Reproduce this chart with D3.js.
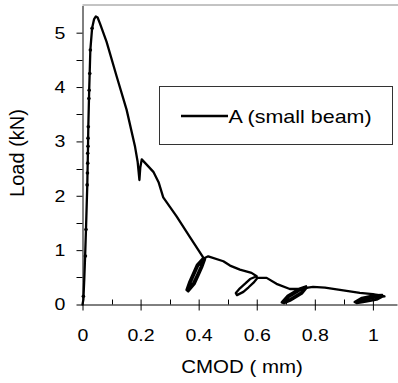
<!DOCTYPE html>
<html>
<head>
<meta charset="utf-8">
<script src="https://cdn.jsdelivr.net/npm/d3@7"></script>
<style>
  html, body { margin: 0; padding: 0; background: #fff; }
  svg { display: block; font-family: "Liberation Sans", Arial, sans-serif; }
</style>
</head>
<body>
<div id="chart"></div>
<script>
// CMOD (mm) / load (kN) for beam A, loops included in path order
const curveCmod = [
  0.000, 0.003, 0.006, 0.009, 0.012, 0.0165, 0.019, 0.020, 0.023, 0.025, 0.027, 0.033, 0.040, 0.046, 0.052,
  0.060, 0.083, 0.118, 0.152, 0.181, 0.190, 0.196, 0.199, 0.204, 0.225, 0.244, 0.262, 0.278, 0.324, 0.370, 0.416,
  // unloading loop near 0.4
  0.394, 0.381, 0.368, 0.358, 0.364, 0.386, 0.399, 0.412, 0.422, 0.399, 0.386, 0.373, 0.362, 0.381, 0.394, 0.407, 0.419,
  0.433, 0.485, 0.508, 0.542, 0.582, 0.600,
  // loop near 0.55 (open)
  0.577, 0.560, 0.542, 0.528, 0.532, 0.554, 0.572, 0.589, 0.603,
  0.634, 0.668, 0.714, 0.745, 0.772,
  // loop near 0.73
  0.756, 0.735, 0.715, 0.694, 0.686, 0.706, 0.726, 0.747, 0.770, 0.754, 0.733, 0.713, 0.690, 0.709, 0.729, 0.750, 0.776,
  0.794, 0.835, 0.875, 0.955, 1.000, 1.037,
  // loop near 1.0
  1.013, 0.990, 0.966, 0.945, 0.937, 0.962, 0.986, 1.009, 1.032, 1.011, 0.988, 0.964, 0.940, 0.964, 0.988, 1.011, 1.040
]
const curveLoad = [
  0.00, 0.09, 0.45, 0.89, 1.38, 2.20, 2.90, 3.27, 3.94, 4.30, 4.68, 5.08, 5.25, 5.30, 5.28,
  5.17, 4.83, 4.19, 3.58, 2.90, 2.62, 2.29, 2.52, 2.67, 2.55, 2.44, 2.25, 1.97, 1.62, 1.24, 0.86,
  0.73, 0.575, 0.42, 0.27, 0.24, 0.375, 0.53, 0.685, 0.83, 0.72, 0.565, 0.41, 0.26, 0.39, 0.54, 0.695, 0.85,
  0.886, 0.795, 0.716, 0.642, 0.582, 0.52,
  0.468, 0.383, 0.298, 0.21, 0.172, 0.232, 0.317, 0.402, 0.49,
  0.49, 0.38, 0.285, 0.29, 0.306,
  0.200, 0.133, 0.069, 0.022, 0.04, 0.160, 0.224, 0.291, 0.335, 0.225, 0.158, 0.094, 0.035, 0.134, 0.198, 0.265, 0.31,
  0.325, 0.31, 0.28, 0.215, 0.19, 0.155,
  0.09, 0.066, 0.043, 0.025, 0.045, 0.124, 0.148, 0.171, 0.175, 0.131, 0.108, 0.084, 0.055, 0.084, 0.108, 0.131, 0.15
]

// dots visible on the rising branch
const markerCmod = [0.003, 0.010, 0.012, 0.016, 0.017, 0.018, 0.018, 0.019, 0.019, 0.020, 0.022, 0.023, 0.025, 0.027, 0.033]
const markerLoad = [0.15, 0.89, 1.38, 2.20, 2.42, 2.60, 2.78, 2.91, 3.06, 3.27, 3.79, 3.94, 4.25, 4.68, 5.08]

const xTicks = [0, 0.2, 0.4, 0.6, 0.8, 1]
const xMinor = [0.1, 0.3, 0.5, 0.7, 0.9]
const yTicks = [0, 1, 2, 3, 4, 5]
const yMinor = [0.5, 1.5, 2.5, 3.5, 4.5]

const seriesName = "A (small beam)"

const W = 398, H = 383
const plotLeft = 82.5, plotRight = 397, plotTop = 5.5, plotBottom = 304.5

const x = d3.scaleLinear().domain([0, 1.083]).range([plotLeft, plotRight])
const y = d3.scaleLinear().domain([0, 5.5]).range([plotBottom, plotTop])

const svg = d3.select("#chart").append("svg")
  .attr("width", W)
  .attr("height", H)

// top frame line
svg.append("line")
  .attr("x1", plotLeft).attr("x2", W)
  .attr("y1", plotTop - 0.5).attr("y2", plotTop - 0.5)
  .attr("stroke", "#888")

// y axis
const yAxis = svg.append("g")
  .attr("transform", `translate(${plotLeft},0)`)
  .call(d3.axisLeft(y).tickValues(yTicks).tickSize(6).tickPadding(9).tickFormat(d3.format("")).tickSizeOuter(0))
yAxis.select(".domain").attr("stroke", "#000")
yAxis.selectAll(".tick line").attr("stroke", "#000")
yAxis.selectAll(".tick text")
  .attr("transform", "scale(1.15,1)")
  .style("font-size", "17px")
  .attr("fill", "#000")
yAxis.selectAll(".minor")
  .data(yMinor)
  .enter()
  .append("line")
  .attr("x1", -6).attr("x2", 0)
  .attr("y1", d => Math.round(y(d)) + 0.5)
  .attr("y2", d => Math.round(y(d)) + 0.5)
  .attr("stroke", "#000")

// x axis, major ticks cross the line, minor ticks point up
const xAxis = svg.append("g")
  .attr("transform", `translate(0,${plotBottom})`)
  .call(d3.axisBottom(x).tickValues(xTicks).tickSize(6).tickPadding(18).tickFormat(d3.format("")).tickSizeOuter(0))
xAxis.select(".domain").attr("stroke", "#000")
xAxis.selectAll(".tick line").attr("stroke", "#000").attr("y1", d => d === 0 ? 0 : -5)
xAxis.selectAll(".tick text")
  .attr("transform", "scale(1.15,1)")
  .style("font-size", "17px")
  .attr("fill", "#000")
xAxis.selectAll(".minor")
  .data(xMinor)
  .enter()
  .append("line")
  .attr("x1", d => Math.round(x(d)) + 0.5)
  .attr("x2", d => Math.round(x(d)) + 0.5)
  .attr("y1", -5).attr("y2", 0)
  .attr("stroke", "#000")

// axis titles
svg.append("text")
  .attr("transform", "translate(242,373) scale(1.1,1)")
  .attr("text-anchor", "middle")
  .style("font-size", "18.6px")
  .text("CMOD ( mm)")

svg.append("text")
  .attr("transform", "translate(24,153) rotate(-90)")
  .attr("text-anchor", "middle")
  .style("font-size", "20px")
  .text("Load (kN)")

// curve
const pts = curveCmod.map((c, i) => [c, curveLoad[i]])
const line = d3.line().x(d => x(d[0])).y(d => y(d[1]))

svg.append("path")
  .datum(pts)
  .attr("d", line)
  .attr("fill", "none")
  .attr("stroke", "#000")
  .attr("stroke-width", 2.3)
  .attr("stroke-linejoin", "round")
  .attr("stroke-linecap", "round")

svg.selectAll(".marker")
  .data(markerCmod.map((c, i) => [c, markerLoad[i]]))
  .enter()
  .append("circle")
  .attr("class", "marker")
  .attr("cx", d => x(d[0]))
  .attr("cy", d => y(d[1]))
  .attr("r", 1.8)
  .attr("fill", "#000")

// legend
const legend = svg.append("g")
legend.append("rect")
  .attr("x", 159.5).attr("y", 86.5)
  .attr("width", 233).attr("height", 58)
  .attr("fill", "#fff")
  .attr("stroke", "#333")
legend.append("line")
  .attr("x1", 181).attr("x2", 228)
  .attr("y1", 116).attr("y2", 116)
  .attr("stroke", "#000")
  .attr("stroke-width", 2.3)
legend.append("text")
  .attr("transform", "translate(228.5,123) scale(1.13,1)")
  .style("font-size", "19px")
  .text(seriesName)
</script>
</body>
</html>
